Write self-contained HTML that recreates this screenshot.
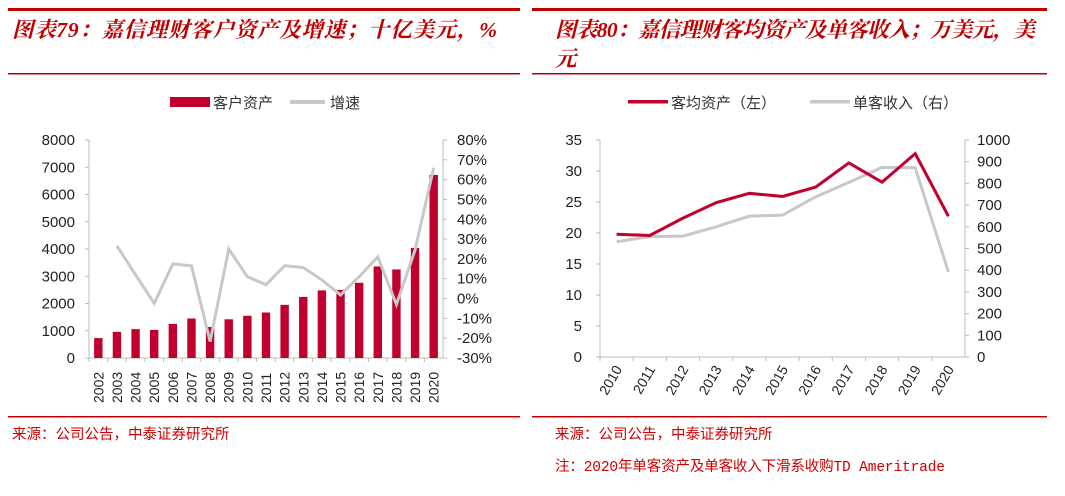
<!DOCTYPE html>
<html><head><meta charset="utf-8">
<style>
body{margin:0;width:1065px;height:491px;background:#fff;overflow:hidden;font-family:"Liberation Sans","Noto Sans CJK SC",sans-serif;}
svg text{font-family:"Liberation Sans","Noto Sans CJK SC",sans-serif;}
.t{font-family:"Liberation Serif","Noto Serif CJK SC",serif;font-style:italic;font-weight:bold;fill:#c00000;font-size:21.5px;}
.s{font-family:"Liberation Mono","Noto Sans CJK SC",monospace;fill:#d00000;font-size:14.5px;}
</style></head><body>
<svg id="svg" width="1065" height="491">
<g>
<rect x="8" y="8" width="512" height="3" fill="#c00000"/>
<text class="t" x="12" y="37" textLength="485">图表79：嘉信理财客户资产及增速；十亿美元，%</text>
<rect x="8" y="73" width="512" height="1.5" fill="#c00000"/>
<rect x="8" y="416" width="512" height="1.5" fill="#c00000"/>
<text class="s" x="12" y="439">来源：公司公告，中泰证券研究所</text>
<rect x="170" y="97" width="40" height="10" fill="#c0002f"/>
<text x="213" y="108" font-size="15" fill="#333">客户资产</text>
<rect x="290" y="100" width="35" height="4" fill="#c8c8c8"/>
<text x="330" y="108" font-size="15" fill="#333">增速</text>
</g>
<g>
<rect x="532" y="8" width="515" height="3" fill="#c00000"/>
<text class="t" x="555" y="37" textLength="480">图表80：嘉信理财客均资产及单客收入；万美元，美</text>
<text class="t" x="555" y="66">元</text>
<rect x="532" y="73" width="515" height="1.5" fill="#c00000"/>
<rect x="532" y="416" width="515" height="1.5" fill="#c00000"/>
<text class="s" x="555" y="439">来源：公司公告，中泰证券研究所</text>
<text class="s" x="555" y="471" textLength="390">注：2020年单客资产及单客收入下滑系收购TD Ameritrade</text>
<rect x="628" y="100" width="40" height="3.5" fill="#c0002f"/>
<text x="671" y="108" font-size="15" fill="#333">客均资产（左）</text>
<rect x="810" y="100" width="40" height="3.5" fill="#c8c8c8"/>
<text x="853" y="108" font-size="15" fill="#333">单客收入（右）</text>
</g>
</svg>
<script>
const years1=["2002","2003","2004","2005","2006","2007","2008","2009","2010","2011","2012","2013","2014","2015","2016","2017","2018","2019","2020"];
const assets=[730,960,1060,1030,1250,1450,1140,1420,1550,1670,1950,2240,2480,2500,2760,3360,3250,4040,6720];
const growth=[null,26.6,12,-2.4,17.5,16.5,-21.7,25,11,7,16.6,15.6,9.4,1.8,11,21,-3,24.5,66];
const leftTicks=[0,1000,2000,3000,4000,5000,6000,7000,8000];
const pctTicks=[-30,-20,-10,0,10,20,30,40,50,60,70,80];
const years2=["2010","2011","2012","2013","2014","2015","2016","2017","2018","2019","2020"];
const avgAssets=[19.8,19.6,22.4,24.9,26.4,25.9,27.4,31.3,28.2,32.8,22.7];
const revenue=[531,555,557,600,649,654,738,805,874,872,392];
const t2L=[0,5,10,15,20,25,30,35];
const t2R=[0,100,200,300,400,500,600,700,800,900,1000];
const svg=document.getElementById('svg');
const NS='http://www.w3.org/2000/svg';
function mk(tag,a){const e=document.createElementNS(NS,tag);for(const k in a)e.setAttribute(k,a[k]);svg.appendChild(e);return e;}
// chart 1
const L1=89,R1=443,T1=140,B1=358;
const y1=v=>B1-(v/8000)*(B1-T1);
const yp=v=>B1-((v+30)/110)*(B1-T1);
const bw1=(R1-L1)/years1.length;
const x1=i=>L1+bw1*(i+0.5);
let e=mk('line',{x1:L1,y1:T1,x2:L1,y2:B1,stroke:'#bbb'});


e=mk('line',{x1:R1,y1:T1,x2:R1,y2:B1,stroke:'#bbb'});


e=mk('line',{x1:L1,y1:B1,x2:R1,y2:B1,stroke:'#bbb'});


leftTicks.forEach(v=>{const t=mk('text',{x:L1-14,y:y1(v)+5,'text-anchor':'end','font-size':15,fill:'#222'});t.textContent=v;


mk('line',{x1:L1-4,y1:y1(v),x2:L1,y2:y1(v),stroke:'#bbb'});});
pctTicks.forEach(v=>{const t=mk('text',{x:R1+14,y:yp(v)+5,'font-size':15,fill:'#222'});t.textContent=v+'%';


mk('line',{x1:R1,y1:yp(v),x2:R1+4,y2:yp(v),stroke:'#bbb'});});
years1.forEach((y,i)=>{mk('line',{x1:L1+bw1*i,y1:B1,x2:L1+bw1*i,y2:B1+4,stroke:'#bbb'});
const b=mk('rect',{x:x1(i)-4.2,y:y1(assets[i]),width:8.4,height:B1-y1(assets[i]),fill:'#c0002f'});


const t=mk('text',{x:x1(i)+5,y:B1+45,'font-size':14,fill:'#222',transform:`rotate(-90 ${x1(i)+5} ${B1+45})`});t.textContent=y;

});
let d='';growth.forEach((g,i)=>{if(g!==null)d+=(d?'L':'M')+x1(i)+' '+yp(g);});
e=mk('path',{d:d,fill:'none',stroke:'#c8c8c8','stroke-width':3});


// chart 2
const L2=600,R2=965,T2=140,B2=357;
const yl=v=>B2-(v/35)*(B2-T2);
const yr=v=>B2-(v/1000)*(B2-T2);
const bw2=(R2-L2)/years2.length;
const x2=i=>L2+bw2*(i+0.5);
e=mk('line',{x1:L2,y1:T2,x2:L2,y2:B2,stroke:'#bbb'});


e=mk('line',{x1:R2,y1:T2,x2:R2,y2:B2,stroke:'#bbb'});


e=mk('line',{x1:L2,y1:B2,x2:R2,y2:B2,stroke:'#bbb'});


t2L.forEach(v=>{const t=mk('text',{x:L2-18,y:yl(v)+5,'text-anchor':'end','font-size':15,fill:'#222'});t.textContent=v;


mk('line',{x1:L2-4,y1:yl(v),x2:L2,y2:yl(v),stroke:'#bbb'});});
t2R.forEach(v=>{const t=mk('text',{x:R2+12,y:yr(v)+5,'font-size':15,fill:'#222'});t.textContent=v;


mk('line',{x1:R2,y1:yr(v),x2:R2+4,y2:yr(v),stroke:'#bbb'});});
years2.forEach((y,i)=>{mk('line',{x1:L2+bw2*i,y1:B2,x2:L2+bw2*i,y2:B2+4,stroke:'#bbb'});
const tx=x2(i)+6,ty=B2+12;
const t=mk('text',{x:tx,y:ty,'text-anchor':'end','font-size':14,fill:'#222',transform:`rotate(-60 ${tx} ${ty})`});t.textContent=y;

});
d='';revenue.forEach((v,i)=>{d+=(i?'L':'M')+x2(i)+' '+yr(v);});
e=mk('path',{d:d,fill:'none',stroke:'#c8c8c8','stroke-width':3});


d='';avgAssets.forEach((v,i)=>{d+=(i?'L':'M')+x2(i)+' '+yl(v);});
e=mk('path',{d:d,fill:'none',stroke:'#c0002f','stroke-width':3});


</script>
</body></html>
